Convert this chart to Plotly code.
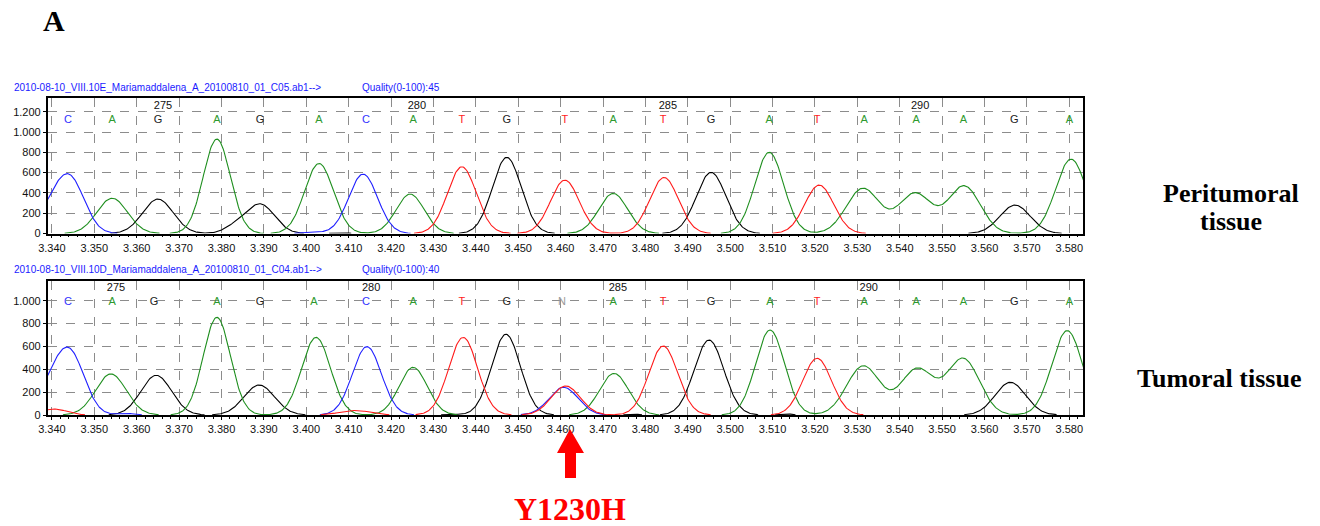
import numpy as np
import plotly.graph_objects as go

W, H = 1320, 526

# ---------------- data ----------------
x_ticks = list(range(3340, 3581, 10))

# top panel (Peritumoral) peaks: position (scan), height, sd
top_A_pos = [3354.2, 3378.9, 3403.0, 3424.5, 3472.4, 3509.2, 3531.3, 3543.6, 3555.2, 3580.4]
top_A_h   = [348, 930, 690, 388, 395, 800, 444, 395, 467, 733]
top_A_sd  = [3.6, 3.2, 3.4, 3.3, 3.4, 3.4, 3.9, 3.9, 3.8, 3.6]
top_C_pos = [3339.5, 3344.3, 3402.0, 3413.4]
top_C_h   = [180, 530, 10, 585]
top_C_sd  = [3.0, 3.4, 3.0, 3.4]
top_G_pos = [3365.0, 3383.0, 3389.1, 3408.0, 3447.3, 3495.5, 3567.2]
top_G_h   = [339, 55, 290, 6, 750, 602, 280]
top_G_sd  = [3.6, 2.5, 3.4, 2.0, 3.4, 3.5, 3.6]
top_T_pos = [3436.7, 3461.0, 3484.4, 3521.0]
top_T_h   = [657, 526, 552, 477]
top_T_sd  = [3.4, 3.4, 3.4, 3.4]

# bottom panel (Tumoral) peaks
bot_A_pos = [3353.9, 3378.9, 3402.3, 3425.2, 3472.6, 3509.4, 3531.4, 3544.1, 3555.0, 3579.5]
bot_A_h   = [359, 854, 679, 417, 364, 743, 429, 402, 490, 738]
bot_A_sd  = [3.6, 3.2, 3.4, 3.3, 3.4, 3.4, 3.9, 3.9, 3.8, 3.6]
bot_C_pos = [3339.5, 3344.3, 3357.5, 3414.3, 3460.7]
bot_C_h   = [190, 530, 14, 598, 242]
bot_C_sd  = [3.0, 3.4, 2.0, 3.4, 3.4]
bot_G_pos = [3364.6, 3388.9, 3434.0, 3447.1, 3477.0, 3495.0, 3513.0, 3566.1]
bot_G_h   = [347, 262, 8, 706, 8, 656, 10, 286]
bot_G_sd  = [3.6, 3.6, 1.5, 3.4, 1.5, 3.5, 1.5, 3.6]
bot_T_pos = [3340.5, 3411.5, 3437.0, 3461.2, 3484.2, 3520.5]
bot_T_h   = [52, 40, 679, 254, 603, 496]
bot_T_sd  = [3.0, 3.5, 3.4, 3.4, 3.4, 3.4]

# base calls
top_calls     = ["C", "A", "G", "A", "G", "A", "C", "A", "T", "G", "T", "A", "T", "G", "A", "T", "A", "A", "A", "G", "A"]
top_call_pos  = [3343.8, 3354.2, 3365.0, 3378.9, 3389.1, 3403.0, 3414.1, 3425.2, 3436.7, 3447.3, 3461.0,
                 3472.4, 3484.2, 3495.5, 3509.2, 3520.5, 3531.6, 3543.9, 3555.0, 3567.0, 3580.0]
bot_calls     = ["C", "A", "G", "A", "G", "A", "C", "A", "T", "G", "N", "A", "T", "G", "A", "T", "A", "A", "A", "G", "A"]
bot_call_pos  = [3343.8, 3354.2, 3364.1, 3378.9, 3389.1, 3401.8, 3414.1, 3425.2, 3436.7, 3447.3, 3460.3,
                 3472.4, 3484.2, 3495.5, 3509.4, 3520.5, 3531.6, 3543.9, 3555.0, 3567.0, 3580.0]
top_num_labels = ["275", "280", "285", "290"]
top_num_pos    = [3366.2, 3426.1, 3485.3, 3544.8]
bot_num_labels = ["275", "280", "285", "290"]
bot_num_pos    = [3355.1, 3415.3, 3473.5, 3532.7]

top_file = "2010-08-10_VIII.10E_Mariamaddalena_A_20100810_01_C05.ab1-->"
bot_file = "2010-08-10_VIII.10D_Mariamaddalena_A_20100810_01_C04.ab1-->"
top_quality = "Quality(0-100):45"
bot_quality = "Quality(0-100):40"

# ---------------- styles ----------------
trace_col = {"A": "#1f8f1f", "C": "#2020ff", "G": "#000000", "T": "#ff1a1a"}
call_col = {"A": "#2e9a2e", "C": "#3333ff", "G": "#222222", "T": "#ff2222", "N": "#9a9a9a"}

X0, X1 = 3339.0, 3583.3
xs = np.arange(X0, X1 + 0.2, 0.2)


def channel(pos, h, sd):
    y = np.zeros_like(xs)
    for p, a, s in zip(pos, h, sd):
        y += a * np.exp(-((xs - p) ** 2) / (2 * s * s))
    y[y < 2.5] = np.nan  # flat baseline is hidden under the axis line
    return y


def px_x(p):
    return p / W


def px_y(p):
    return 1 - p / H


fig = go.Figure()

panels = [
    ("x", "y", {"A": (top_A_pos, top_A_h, top_A_sd), "C": (top_C_pos, top_C_h, top_C_sd),
                "G": (top_G_pos, top_G_h, top_G_sd), "T": (top_T_pos, top_T_h, top_T_sd)},
     top_calls, top_call_pos, 1118, top_num_labels, top_num_pos, 1256),
    ("x2", "y2", {"A": (bot_A_pos, bot_A_h, bot_A_sd), "C": (bot_C_pos, bot_C_h, bot_C_sd),
                  "G": (bot_G_pos, bot_G_h, bot_G_sd), "T": (bot_T_pos, bot_T_h, bot_T_sd)},
     bot_calls, bot_call_pos, 989, bot_num_labels, bot_num_pos, 1111),
]

for xa, ya, chans, calls, cpos, cy, nums, npos, ny in panels:
    for base in ["G", "A", "C", "T"]:
        p, h, s = chans[base]
        fig.add_trace(go.Scatter(x=xs, y=channel(p, h, s), mode="lines", connectgaps=False,
                                 line=dict(color=trace_col[base], width=1.1),
                                 xaxis=xa, yaxis=ya, showlegend=False, hoverinfo="skip"))
    fig.add_trace(go.Scatter(x=cpos, y=[cy] * len(cpos), mode="text", text=calls,
                             textfont=dict(family="Liberation Sans, Arial", size=11,
                                           color=[call_col[c] for c in calls]),
                             xaxis=xa, yaxis=ya, showlegend=False, hoverinfo="skip"))
    fig.add_trace(go.Scatter(x=npos, y=[ny] * len(npos), mode="text", text=nums,
                             textfont=dict(family="Liberation Sans, Arial", size=11, color="#111111"),
                             xaxis=xa, yaxis=ya, showlegend=False, hoverinfo="skip"))

axis_common = dict(showline=True, mirror=True, linecolor="#000000", linewidth=1.6,
                   showgrid=True, gridcolor="#8c8c8c", griddash="dash", gridwidth=1,
                   zeroline=False, ticks="outside", ticklen=3, tickcolor="#000000",
                   tickfont=dict(family="Liberation Sans, Arial", size=11, color="#111111"),
                   automargin=False)

xdom = [px_x(47.7), px_x(1083.3)]
fig.update_layout(
    width=W, height=H, template="none",
    paper_bgcolor="white", plot_bgcolor="white",
    margin=dict(l=0, r=0, t=0, b=0),
    separators=",.",
    showlegend=False,
    xaxis=dict(domain=xdom, range=[X0, X1], tickvals=x_ticks, tickformat=",d", anchor="y",
               minor=dict(ticks="outside", ticklen=2, dtick=2, tick0=3340, tickcolor="#000", showgrid=False),
               **axis_common),
    yaxis=dict(domain=[px_y(233.5), px_y(98)], range=[0, 1335], dtick=200, tick0=0,
               tickformat=",d", anchor="x", **axis_common),
    xaxis2=dict(domain=xdom, range=[X0, X1], tickvals=x_ticks, tickformat=",d", anchor="y2",
                minor=dict(ticks="outside", ticklen=2, dtick=2, tick0=3340, tickcolor="#000", showgrid=False),
                **axis_common),
    yaxis2=dict(domain=[px_y(415), px_y(281)], range=[0, 1172], dtick=200, tick0=0,
                tickformat=",d", anchor="x2", **axis_common),
)

ann = []
hdr_font = dict(family="Liberation Sans, Arial", size=10, color="#1a1aff")
for txt, xp, yp in [(top_file, 12, 87), (top_quality, 360, 87), (bot_file, 12, 269), (bot_quality, 360, 269)]:
    ann.append(dict(text=txt, x=px_x(xp), y=px_y(yp), xref="paper", yref="paper",
                    xanchor="left", yanchor="middle", showarrow=False, font=hdr_font))

serif = "Liberation Serif, Times New Roman, serif"
ann.append(dict(text="<b>A</b>", x=px_x(54), y=px_y(21), xref="paper", yref="paper",
                xanchor="center", yanchor="middle", showarrow=False,
                font=dict(family=serif, size=30, color="#000")))
ann.append(dict(text="<b>Peritumoral</b>", x=px_x(1231), y=px_y(194), xref="paper", yref="paper",
                xanchor="center", yanchor="middle", showarrow=False,
                font=dict(family=serif, size=26, color="#000")))
ann.append(dict(text="<b>tissue</b>", x=px_x(1231), y=px_y(221), xref="paper", yref="paper",
                xanchor="center", yanchor="middle", showarrow=False,
                font=dict(family=serif, size=26, color="#000")))
ann.append(dict(text="<b>Tumoral tissue</b>", x=px_x(1219), y=px_y(378), xref="paper", yref="paper",
                xanchor="center", yanchor="middle", showarrow=False,
                font=dict(family=serif, size=26, color="#000")))
ann.append(dict(text="<b>Y1230H</b>", x=px_x(570), y=px_y(509), xref="paper", yref="paper",
                xanchor="center", yanchor="middle", showarrow=False,
                font=dict(family=serif, size=32, color="#ff0000")))
fig.update_layout(annotations=ann)

# red arrow (decoration, paper coordinates)
pts = [(570, 429), (584, 453), (576, 453), (576, 478), (565, 478), (565, 453), (557, 453)]
path = "M " + " L ".join(f"{px_x(a):.5f},{px_y(b):.5f}" for a, b in pts) + " Z"
fig.add_shape(type="path", path=path, xref="paper", yref="paper",
              fillcolor="#ff0000", line=dict(color="#ff0000", width=0))

fig.write_html("out.html", config={"displayModeBar": False},
               post_script="document.body.style.margin='0px';document.body.style.overflow='hidden';")
